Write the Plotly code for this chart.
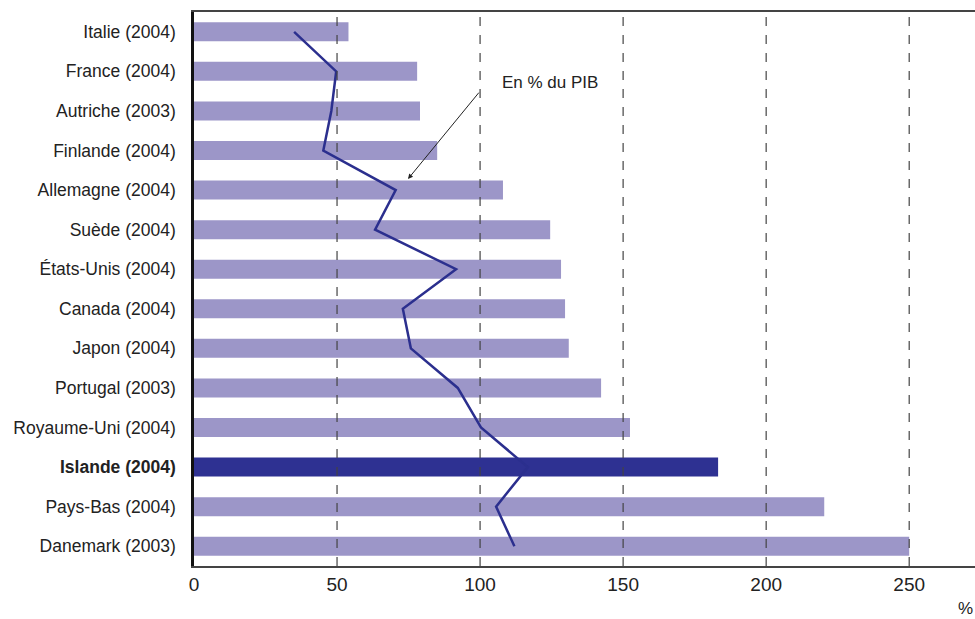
import plotly.graph_objects as go

countries = ["Italie (2004)", "France (2004)", "Autriche (2003)", "Finlande (2004)",
             "Allemagne (2004)", "Suède (2004)", "États-Unis (2004)", "Canada (2004)",
             "Japon (2004)", "Portugal (2003)", "Royaume-Uni (2004)", "Islande (2004)",
             "Pays-Bas (2004)", "Danemark (2003)"]
bar_values = [54, 78, 79, 85, 108, 124.5, 128.3, 129.7, 131, 142.3, 152.4, 183.2, 220.3, 250]
line_values = [35, 49.7, 48, 45.2, 70.5, 63.3, 91.6, 73, 75.8, 92.2, 100.3, 116.7, 105.6, 112]
highlight = "Islande (2004)"
x_ticks = [0, 50, 100, 150, 200, 250]

bar_colors = ["#2E3192" if c == highlight else "#9C96C8" for c in countries]
tick_text = [f"<b>{c}</b>" if c == highlight else c for c in countries]

fig = go.Figure()
fig.add_trace(go.Bar(
    y=countries, x=bar_values, orientation="h",
    marker=dict(color=bar_colors, line=dict(width=0)),
    width=0.48, showlegend=False, hoverinfo="x+y",
))
# dashed grid lines above bars
for t in x_ticks[1:]:
    fig.add_shape(type="line", xref="x", yref="paper", x0=t, x1=t, y0=0, y1=1,
                  line=dict(color="#444444", width=1.2, dash="dash"), layer="above")
fig.add_trace(go.Scatter(
    y=countries, x=line_values, mode="lines",
    line=dict(color="#2B2F8E", width=2.5), showlegend=False,
))

fig.add_annotation(x=74.8, y=3.72, ax=100, ay=1.5, xref="x", yref="y", axref="x", ayref="y",
                   text="", showarrow=True, arrowhead=2, arrowsize=1, arrowwidth=1,
                   arrowcolor="#222222")
fig.add_annotation(x=107, y=1.28, xref="x", yref="y", text="En % du PIB", showarrow=False,
                   xanchor="left", yanchor="middle",
                   font=dict(family="Liberation Sans, Arial, sans-serif", size=17, color="#222222"))
fig.add_annotation(x=1, y=0, xref="paper", yref="paper", text="%", showarrow=False,
                   xanchor="right", yanchor="top", yshift=-31,
                   font=dict(family="Liberation Sans, Arial, sans-serif", size=17, color="#222222"))

fig.update_layout(
    width=975, height=619,
    margin=dict(l=194, r=0, t=12, b=53),
    plot_bgcolor="white", paper_bgcolor="white",
    font=dict(family="Liberation Sans, Arial, sans-serif", color="#222222"),
    xaxis=dict(range=[0, 273], tickvals=x_ticks, showgrid=False, zeroline=False,
               showline=True, linecolor="#444444", linewidth=1.5, mirror=True,
               ticks="", tickfont=dict(size=19), ticklabelstandoff=0),
    yaxis=dict(categoryorder="array", categoryarray=countries, range=[13.5, -0.5],
               autorange=False,
               tickvals=countries, ticktext=tick_text, showgrid=False, zeroline=False,
               showline=True, linecolor="#111111", linewidth=2.5, ticks="",
               tickfont=dict(size=17.5), ticklabelstandoff=12),
)

fig.write_html("out.html")
